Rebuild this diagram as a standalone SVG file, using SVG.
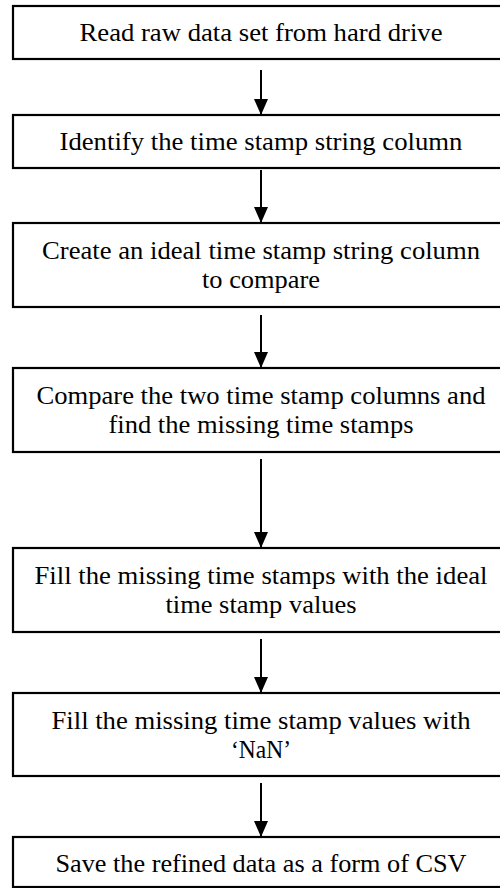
<svg xmlns="http://www.w3.org/2000/svg" width="500" height="888" viewBox="0 0 500 888">
<defs>
<marker id="ah" markerWidth="16" markerHeight="14" refX="16" refY="7" orient="auto" markerUnits="userSpaceOnUse">
<path d="M0,0 L16,7 L0,14 Z" fill="#000"/>
</marker>
<style>
.box{fill:#fff;stroke:#000;stroke-width:2.2}
.t{font-family:"Liberation Serif","Times New Roman",serif;font-size:26px;fill:#000;text-anchor:middle}
.c{stroke:#000;stroke-width:2;fill:none}
</style>
</defs>
<rect width="500" height="888" fill="#fff"/>
<g id="connectors">
<line class="c" x1="261" y1="70" x2="261" y2="115" marker-end="url(#ah)"/>
<line class="c" x1="261" y1="170" x2="261" y2="223" marker-end="url(#ah)"/>
<line class="c" x1="261" y1="315" x2="261" y2="368" marker-end="url(#ah)"/>
<line class="c" x1="261" y1="459" x2="261" y2="548" marker-end="url(#ah)"/>
<line class="c" x1="261" y1="639" x2="261" y2="693" marker-end="url(#ah)"/>
<line class="c" x1="261" y1="783" x2="261" y2="837" marker-end="url(#ah)"/>
</g>
<g id="n1"><rect class="box" x="13" y="6" width="497" height="53"/><text class="t" x="261" y="41" textLength="363" lengthAdjust="spacingAndGlyphs">Read raw data set from hard drive</text></g>
<g id="n2"><rect class="box" x="13" y="115" width="497" height="53"/><text class="t" x="261" y="150" textLength="403" lengthAdjust="spacingAndGlyphs">Identify the time stamp string column</text></g>
<g id="n3"><rect class="box" x="13" y="223" width="497" height="84"/><text class="t" x="261" y="259" textLength="438" lengthAdjust="spacingAndGlyphs">Create an ideal time stamp string column</text><text class="t" x="261" y="288" textLength="118" lengthAdjust="spacingAndGlyphs">to compare</text></g>
<g id="n4"><rect class="box" x="13" y="368" width="497" height="84"/><text class="t" x="261" y="404" textLength="449" lengthAdjust="spacingAndGlyphs">Compare the two time stamp columns and</text><text class="t" x="261" y="433" textLength="305" lengthAdjust="spacingAndGlyphs">find the missing time stamps</text></g>
<g id="n5"><rect class="box" x="13" y="548" width="497" height="84"/><text class="t" x="261" y="584" textLength="453" lengthAdjust="spacingAndGlyphs">Fill the missing time stamps with the ideal</text><text class="t" x="261" y="613" textLength="191" lengthAdjust="spacingAndGlyphs">time stamp values</text></g>
<g id="n6"><rect class="box" x="13" y="693" width="497" height="83"/><text class="t" x="261" y="729" textLength="419" lengthAdjust="spacingAndGlyphs">Fill the missing time stamp values with</text><text class="t" x="261" y="758" textLength="60" lengthAdjust="spacingAndGlyphs">‘NaN’</text></g>
<g id="n7"><rect class="box" x="13" y="837" width="497" height="50"/><text class="t" x="261" y="872" textLength="411" lengthAdjust="spacingAndGlyphs">Save the refined data as a form of CSV</text></g>
</svg>
